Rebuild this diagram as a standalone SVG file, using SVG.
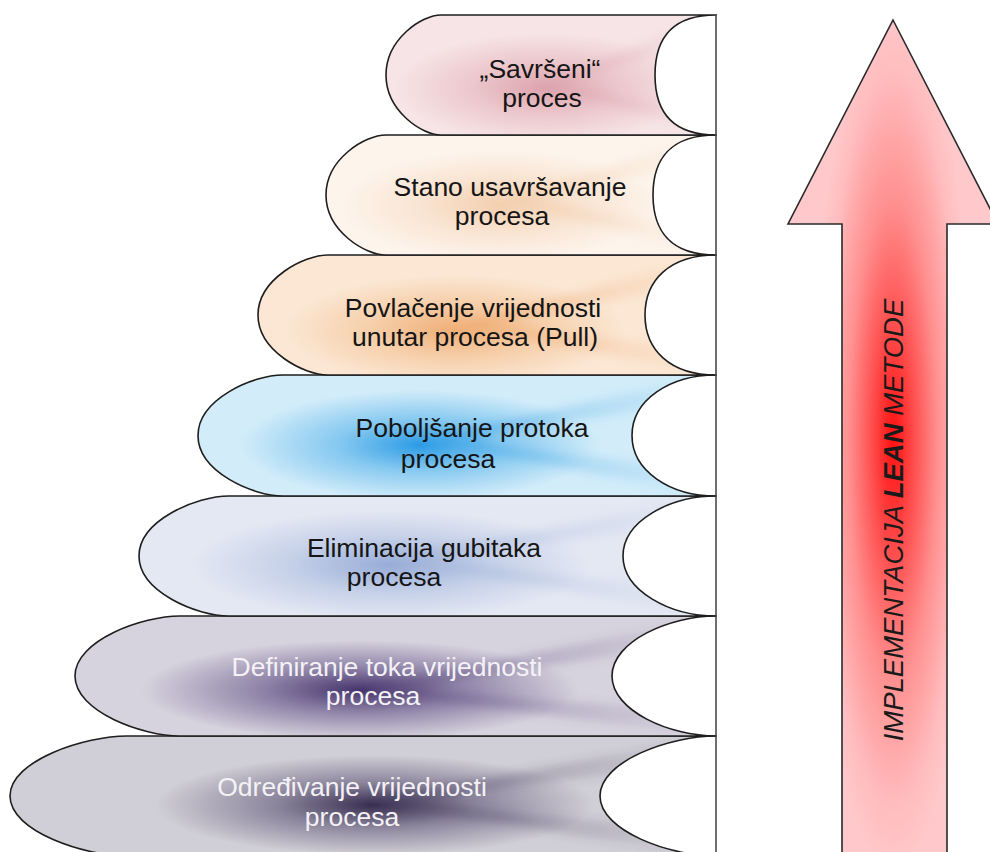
<svg xmlns="http://www.w3.org/2000/svg" width="990" height="852" viewBox="0 0 990 852">
<style>
.edge{fill:none;stroke:#1e1e1e;stroke-width:1.6;stroke-linejoin:round}
.ray{filter:url(#soft)}
.lbl{font-family:"Liberation Sans",Arial,sans-serif;font-size:26.5px;text-anchor:middle;fill:#151515}
.lbl.w{fill:#f4f2f6}
.arrowtxt{font-family:"Liberation Sans",Arial,sans-serif;font-size:27.5px;font-style:italic;fill:#1a1a1a;text-anchor:middle}
</style>
<defs>
<filter id="soft" x="-10%" y="-30%" width="120%" height="160%"><feGaussianBlur stdDeviation="5"/></filter>
<path id="p7" d="M127,736 L716,736 C670,736 600,761 600,796 C600,831 670,856 716,856 L127,856 C86,856 10,832 10,796 C10,760 86,736 127,736 Z"/>
<path id="p6" d="M180,616 L716,616 C670,616 612,641 612,676 C612,711 670,736 716,736 L180,736 C143,736 75,712 75,676 C75,640 143,616 180,616 Z"/>
<path id="p5" d="M229,496 L716,496 C670,496 623,521 623,556 C623,591 670,616 716,616 L229,616 C197,616 139,592 139,556 C139,520 197,496 229,496 Z"/>
<path id="p4" d="M283,375 L716,375 C670,375 632,400 632,435.5 C632,471 670,496 716,496 L283,496 C253,496 198,472 198,435.5 C198,399 253,375 283,375 Z"/>
<path id="p3" d="M328,255 L716,255 C670,255 645,280 645,315 C645,350 670,375 716,375 L328,375 C304,375 258,351 258,315 C258,279 304,255 328,255 Z"/>
<path id="p2" d="M386,135 L716,135 C670,135 653,160 653,195 C653,230 670,255 716,255 L386,255 C365,255 326,231 326,195 C326,159 365,135 386,135 Z"/>
<path id="p1" d="M441,15 L716,15 C670,15 655,40 655,75 C655,110 670,135 716,135 L441,135 C422,135 386,111 386,75 C386,39 422,15 441,15 Z"/>
<clipPath id="c1"><use href="#p1"/></clipPath>
<clipPath id="c2"><use href="#p2"/></clipPath>
<clipPath id="c3"><use href="#p3"/></clipPath>
<clipPath id="c4"><use href="#p4"/></clipPath>
<clipPath id="c5"><use href="#p5"/></clipPath>
<clipPath id="c6"><use href="#p6"/></clipPath>
<clipPath id="c7"><use href="#p7"/></clipPath>
<radialGradient id="g1" gradientUnits="userSpaceOnUse" cx="0" cy="0" r="1" gradientTransform="translate(545 88) scale(150 55)">
<stop offset="0" stop-color="#dca3ad"/><stop offset="0.5" stop-color="#ecc8cd"/><stop offset="1" stop-color="#f6e4e6"/></radialGradient>
<radialGradient id="g2" gradientUnits="userSpaceOnUse" cx="0" cy="0" r="1" gradientTransform="translate(500 205) scale(160 55)">
<stop offset="0" stop-color="#f3cfae"/><stop offset="0.5" stop-color="#f9e4d2"/><stop offset="1" stop-color="#fdf4ec"/></radialGradient>
<radialGradient id="g3" gradientUnits="userSpaceOnUse" cx="0" cy="0" r="1" gradientTransform="translate(455 330) scale(170 55)">
<stop offset="0" stop-color="#efae76"/><stop offset="0.5" stop-color="#f6cfaa"/><stop offset="1" stop-color="#fbe7d4"/></radialGradient>
<radialGradient id="g4" gradientUnits="userSpaceOnUse" cx="0" cy="0" r="1" gradientTransform="translate(420 445) scale(180 55)">
<stop offset="0" stop-color="#2c9be5"/><stop offset="0.45" stop-color="#84c8f0"/><stop offset="1" stop-color="#d2ecf9"/></radialGradient>
<radialGradient id="g5" gradientUnits="userSpaceOnUse" cx="0" cy="0" r="1" gradientTransform="translate(390 565) scale(200 55)">
<stop offset="0" stop-color="#97acd7"/><stop offset="0.5" stop-color="#c5d0e8"/><stop offset="1" stop-color="#e4e8f3"/></radialGradient>
<radialGradient id="g6" gradientUnits="userSpaceOnUse" cx="0" cy="0" r="1" gradientTransform="translate(360 690) scale(220 50)">
<stop offset="0" stop-color="#46346c"/><stop offset="0.45" stop-color="#8f84a8"/><stop offset="1" stop-color="#d7d3de"/></radialGradient>
<radialGradient id="g7" gradientUnits="userSpaceOnUse" cx="0" cy="0" r="1" gradientTransform="translate(375 805) scale(220 50)">
<stop offset="0" stop-color="#362c4f"/><stop offset="0.45" stop-color="#8b859c"/><stop offset="1" stop-color="#d0ced6"/></radialGradient>
<linearGradient id="s1" x1="0" y1="0" x2="1" y2="0"><stop offset="0" stop-color="#dca3ad" stop-opacity="0.5"/><stop offset="1" stop-color="#dca3ad" stop-opacity="0"/></linearGradient>
<linearGradient id="s2" x1="0" y1="0" x2="1" y2="0"><stop offset="0" stop-color="#f0c8a5" stop-opacity="0.5"/><stop offset="1" stop-color="#f0c8a5" stop-opacity="0"/></linearGradient>
<linearGradient id="s3" x1="0" y1="0" x2="1" y2="0"><stop offset="0" stop-color="#eea56a" stop-opacity="0.5"/><stop offset="1" stop-color="#eea56a" stop-opacity="0"/></linearGradient>
<linearGradient id="s4" x1="0" y1="0" x2="1" y2="0"><stop offset="0" stop-color="#3aa3e6" stop-opacity="0.5"/><stop offset="1" stop-color="#3aa3e6" stop-opacity="0"/></linearGradient>
<linearGradient id="s5" x1="0" y1="0" x2="1" y2="0"><stop offset="0" stop-color="#9fb2d8" stop-opacity="0.5"/><stop offset="1" stop-color="#9fb2d8" stop-opacity="0"/></linearGradient>
<linearGradient id="s6" x1="0" y1="0" x2="1" y2="0"><stop offset="0" stop-color="#5a4a7e" stop-opacity="0.5"/><stop offset="1" stop-color="#5a4a7e" stop-opacity="0"/></linearGradient>
<linearGradient id="s7" x1="0" y1="0" x2="1" y2="0"><stop offset="0" stop-color="#4a4262" stop-opacity="0.5"/><stop offset="1" stop-color="#4a4262" stop-opacity="0"/></linearGradient>
<radialGradient id="ga" gradientUnits="userSpaceOnUse" cx="0" cy="0" r="1" gradientTransform="translate(893 440) scale(80 430)">
<stop offset="0" stop-color="#ff1010"/><stop offset="0.25" stop-color="#ff4a4a"/><stop offset="0.55" stop-color="#ff8f8f"/><stop offset="0.85" stop-color="#ffbcbe"/><stop offset="1" stop-color="#ffc8ca"/></radialGradient>
</defs>

<g id="band7">
<use href="#p7" fill="url(#g7)"/>
<g clip-path="url(#c7)"><path class="ray" fill="url(#s7)" d="M375,799 L716,736 L716,760 L375,805 Z M375,799 L716,832 L716,856 L375,805 Z"/></g>
<use href="#p7" class="edge"/>
<text class="lbl w" x="352" y="796">Određivanje vrijednosti</text>
<text class="lbl w" x="352" y="826">procesa</text>
</g>
<g id="band6">
<use href="#p6" fill="url(#g6)"/>
<g clip-path="url(#c6)"><path class="ray" fill="url(#s6)" d="M370,687 L716,616 L716,640 L370,693 Z M370,687 L716,712 L716,736 L370,693 Z"/></g>
<use href="#p6" class="edge"/>
<text class="lbl w" x="387" y="676">Definiranje toka vrijednosti</text>
<text class="lbl w" x="373" y="705">procesa</text>
</g>
<g id="band5">
<use href="#p5" fill="url(#g5)"/>
<g clip-path="url(#c5)"><path class="ray" fill="url(#s5)" d="M400,557 L716,496 L716,520 L400,563 Z M400,557 L716,592 L716,616 L400,563 Z"/></g>
<use href="#p5" class="edge"/>
<text class="lbl" x="424" y="557">Eliminacija gubitaka</text>
<text class="lbl" x="394" y="586">procesa</text>
</g>
<g id="band4">
<use href="#p4" fill="url(#g4)"/>
<g clip-path="url(#c4)"><path class="ray" fill="url(#s4)" d="M430,437 L716,375 L716,399 L430,443 Z M430,437 L716,472 L716,496 L430,443 Z"/></g>
<use href="#p4" class="edge"/>
<text class="lbl" x="472" y="437">Poboljšanje protoka</text>
<text class="lbl" x="448" y="468">procesa</text>
</g>
<g id="band3">
<use href="#p3" fill="url(#g3)"/>
<g clip-path="url(#c3)"><path class="ray" fill="url(#s3)" d="M470,322 L716,255 L716,279 L470,328 Z M470,322 L716,351 L716,375 L470,328 Z"/></g>
<use href="#p3" class="edge"/>
<text class="lbl" x="473" y="317">Povlačenje vrijednosti</text>
<text class="lbl" x="475" y="346">unutar procesa (Pull)</text>
</g>
<g id="band2">
<use href="#p2" fill="url(#g2)"/>
<g clip-path="url(#c2)"><path class="ray" fill="url(#s2)" d="M510,197 L716,135 L716,159 L510,203 Z M510,197 L716,231 L716,255 L510,203 Z"/></g>
<use href="#p2" class="edge"/>
<text class="lbl" x="510" y="196">Stano usavršavanje</text>
<text class="lbl" x="502" y="225">procesa</text>
</g>
<g id="band1">
<use href="#p1" fill="url(#g1)"/>
<g clip-path="url(#c1)"><path class="ray" fill="url(#s1)" d="M545,82 L716,15 L716,39 L545,88 Z M545,82 L716,111 L716,135 L545,88 Z"/></g>
<use href="#p1" class="edge"/>
<text class="lbl" x="540" y="78">„Savršeni“</text>
<text class="lbl" x="542" y="107">proces</text>
</g>

<g id="connectors">
<line x1="716" y1="14" x2="716" y2="852" stroke="#4a4a4a" stroke-width="1.6"/>
</g>

<g id="arrow">
<path d="M893,20 L998,224 L947,224 L947,860 L842,860 L842,224 L788,224 Z" fill="url(#ga)" stroke="#2a2a2a" stroke-width="1.6" stroke-linejoin="miter"/>
<text class="arrowtxt" transform="translate(903 520) rotate(-90)">IMPLEMENTACIJA <tspan font-weight="bold">LEAN</tspan> METODE</text>
</g>
</svg>
